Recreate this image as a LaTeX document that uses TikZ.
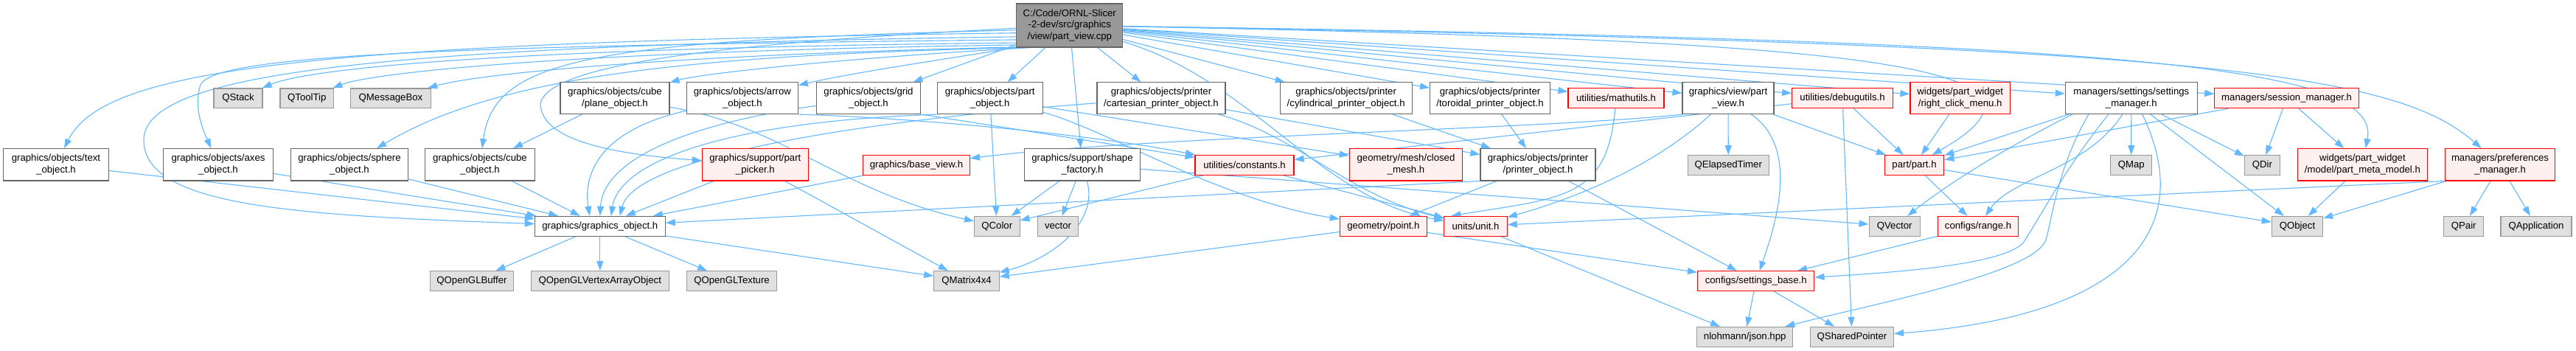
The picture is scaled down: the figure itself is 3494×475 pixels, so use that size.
\documentclass[tikz,border=0pt]{standalone}
\usepackage{fontspec}
\setmainfont{Liberation Sans}
\usetikzlibrary{arrows.meta}
\definecolor{edgecol}{HTML}{63B8FF}
\definecolor{bordN}{HTML}{666666}
\definecolor{bordX}{HTML}{999999}
\definecolor{fillX}{HTML}{E0E0E0}
\definecolor{fillR}{HTML}{FFF0F0}
\definecolor{fillRoot}{HTML}{999999}
\pgfdeclarelayer{edgelayer}
\pgfsetlayers{edgelayer,main}
\tikzset{
  nd/.style={draw, line width=1.1pt, inner sep=0pt, align=center, text=black,
             font=\fontsize{13.2}{15.7}\selectfont},
  nbox/.style={nd, draw=bordN, fill=white},
  xbox/.style={nd, draw=bordX, fill=fillX},
  rbox/.style={nd, draw=red, fill=fillR},
  rootbox/.style={nd, draw=bordN, fill=fillRoot},
  hone/.style={minimum height=26.7pt},
  htwo/.style={minimum height=42.7pt},
  dep/.style={draw=edgecol, line width=1.1pt, -{Triangle[length=13pt,width=9pt]}},
}
\begin{document}
\begin{tikzpicture}[x=1pt,y=-1pt]
\useasboundingbox (0,0) rectangle (3494,475);
% ---------- row 0
\node[rootbox, minimum width=144pt, minimum height=59pt] (root) at (1450.8,34.5) {C:/Code/ORNL-Slicer\\-2-dev/src/graphics\\/view/part\_view.cpp};
% ---------- row 1
\node[xbox, hone, minimum width=66pt] (qstack) at (323,133.3) {QStack};
\node[xbox, hone, minimum width=72.7pt] (qtooltip) at (416.3,133.3) {QToolTip};
\node[xbox, hone, minimum width=108.7pt] (qmsgbox) at (530,133.3) {QMessageBox};
\node[nbox, htwo, minimum width=148pt] (plane) at (834,133.2) {graphics/objects/cube\\/plane\_object.h};
\node[nbox, htwo, minimum width=151pt] (arrow) at (1006.9,133.2) {graphics/objects/arrow\\\_object.h};
\node[nbox, htwo, minimum width=141.8pt] (grid) at (1178,133.2) {graphics/objects/grid\\\_object.h};
\node[nbox, htwo, minimum width=142.7pt] (partobj) at (1342.7,133.2) {graphics/objects/part\\\_object.h};
\node[nbox, htwo, minimum width=174pt] (cart) at (1575,133.2) {graphics/objects/printer\\/cartesian\_printer\_object.h};
\node[nbox, htwo, minimum width=179.3pt] (cyl) at (1825.7,133.2) {graphics/objects/printer\\/cylindrical\_printer\_object.h};
\node[nbox, htwo, minimum width=163pt] (tor) at (2021,133.2) {graphics/objects/printer\\/toroidal\_printer\_object.h};
\node[rbox, minimum height=27.4pt, minimum width=130pt] (mathutils) at (2192,133) {utilities/mathutils.h};
\node[nbox, htwo, minimum width=124pt] (partview) at (2344,133.2) {graphics/view/part\\\_view.h};
\node[rbox, minimum height=27.4pt, minimum width=136.6pt] (debugutils) at (2499,133) {utilities/debugutils.h};
\node[rbox, htwo, minimum width=135.5pt] (rcm) at (2658.7,133.2) {widgets/part\_widget\\/right\_click\_menu.h};
\node[nbox, htwo, minimum width=178.7pt] (settingsmgr) at (2890.8,133.2) {managers/settings/settings\\\_manager.h};
\node[rbox, minimum height=27.4pt, minimum width=195.6pt] (sessionmgr) at (3101.6,133) {managers/session\_manager.h};
% ---------- row 2
\node[nbox, minimum height=43.3pt, minimum width=143pt] (textobj) at (76,223.3) {graphics/objects/text\\\_object.h};
\node[nbox, minimum height=43.3pt, minimum width=148.5pt] (axes) at (296,223.3) {graphics/objects/axes\\\_object.h};
\node[nbox, minimum height=43.3pt, minimum width=159.6pt] (sphere) at (474,223.3) {graphics/objects/sphere\\\_object.h};
\node[nbox, minimum height=43.3pt, minimum width=148.7pt] (cube) at (651,223.3) {graphics/objects/cube\\\_object.h};
\node[rbox, minimum height=43.3pt, minimum width=144.3pt] (picker) at (1024.4,223.3) {graphics/support/part\\\_picker.h};
\node[rbox, hone, minimum width=145pt] (baseview) at (1243,224) {graphics/base\_view.h};
\node[nbox, minimum height=43.3pt, minimum width=157pt] (shapefac) at (1468,223.3) {graphics/support/shape\\\_factory.h};
\node[rbox, hone, minimum width=134pt] (constants) at (1688,224) {utilities/constants.h};
\node[rbox, minimum height=43.3pt, minimum width=153.5pt] (closedmesh) at (1907,223.3) {geometry/mesh/closed\\\_mesh.h};
\node[nbox, minimum height=43.3pt, minimum width=156pt] (printerobj) at (2086,223.3) {graphics/objects/printer\\/printer\_object.h};
\node[xbox, hone, minimum width=110pt] (qelapsed) at (2344.3,224) {QElapsedTimer};
\node[rbox, hone, minimum width=80.7pt] (part) at (2596.5,224) {part/part.h};
\node[xbox, hone, minimum width=56pt] (qmap) at (2890.7,224) {QMap};
\node[xbox, hone, minimum width=47.8pt] (qdir) at (3068.3,224) {QDir};
\node[rbox, minimum height=43.3pt, minimum width=175.3pt] (metamodel) at (3204.4,223.3) {widgets/part\_widget\\/model/part\_meta\_model.h};
\node[rbox, minimum height=43.3pt, minimum width=149.6pt] (prefs) at (3391,223.3) {managers/preferences\\\_manager.h};
% ---------- row 3
\node[nbox, hone, minimum width=176.8pt] (gobj) at (813.8,306.7) {graphics/graphics\_object.h};
\node[xbox, hone, minimum width=61.6pt] (qcolor) at (1352.3,306.7) {QColor};
\node[xbox, hone, minimum width=55.5pt] (vector) at (1435,306.7) {vector};
\node[rbox, hone, minimum width=118.2pt] (point) at (1876.4,306.7) {geometry/point.h};
\node[rbox, hone, minimum width=85.3pt] (unit) at (2001.5,306.7) {units/unit.h};
\node[xbox, hone, minimum width=69.3pt] (qvector) at (2569.7,306.7) {QVector};
\node[rbox, hone, minimum width=109.4pt] (range) at (2683,306.7) {configs/range.h};
\node[xbox, hone, minimum width=69.3pt] (qobject) at (3116,306.7) {QObject};
\node[xbox, hone, minimum width=54.3pt] (qpair) at (3341.7,306.7) {QPair};
\node[xbox, hone, minimum width=96pt] (qapp) at (3440,306.7) {QApplication};
% ---------- row 4
\node[xbox, hone, minimum width=112.5pt] (qglbuf) at (640,381) {QOpenGLBuffer};
\node[xbox, hone, minimum width=186.7pt] (qglvao) at (813.8,381) {QOpenGLVertexArrayObject};
\node[xbox, hone, minimum width=122.4pt] (qgltex) at (992.5,381) {QOpenGLTexture};
\node[xbox, hone, minimum width=88.4pt] (qmat) at (1311,381) {QMatrix4x4};
\node[rbox, hone, minimum width=158.3pt] (setbase) at (2381.7,381) {configs/settings\_base.h};
% ---------- row 5
\node[xbox, hone, minimum width=130pt] (json) at (2366.7,456.7) {nlohmann/json.hpp};
\node[xbox, hone, minimum width=113pt] (qshared) at (2512,456.7) {QSharedPointer};

\begin{pgfonlayer}{edgelayer}
\fill[white] (0,0) rectangle (3494,475);
% root, left fan
\draw[dep] (root.188) .. controls (400,58) and (140,95) .. (textobj);
\draw[dep] (root.192) .. controls (500,62) and (195,100) .. (195,190) .. controls (195,280) and (400,292) .. (gobj);
\draw[dep] (root.195) .. controls (600,62) and (290,75) .. (272,115) .. controls (262,145) and (275,175) .. (axes);
\draw[dep] (root.198) .. controls (700,65) and (420,92) .. (qstack);
\draw[dep] (root.200) .. controls (750,70) and (500,100) .. (qtooltip);
\draw[dep] (root.202) .. controls (900,75) and (650,100) .. (qmsgbox);
\draw[dep] (root.205) .. controls (950,75) and (680,100) .. (sphere);
\draw[dep] (root.185) .. controls (800,55) and (670,80) .. (cube);
\draw[dep] (root.210) .. controls (1150,78) and (950,100) .. (plane);
\draw[dep] (root.south west) .. controls (1250,85) and (1150,100) .. (arrow);
\draw[dep] (root.183) .. controls (950,60) and (745,90) .. (733,140) .. controls (733,195) and (850,210) .. (picker);
% root, straight
\draw[dep] (root) -- (grid);
\draw[dep] (root) -- (partobj);
\draw[dep] (root) -- (shapefac);
\draw[dep] (root) -- (cart);
\draw[dep] (root) -- (cyl);
\draw[dep] (root) -- (tor);
\draw[dep] (root) -- (mathutils);
\draw[dep] (root) -- (partview);
\draw[dep] (root) -- (debugutils);
\draw[dep] (root) -- (rcm);
\draw[dep] (root) -- (settingsmgr);
\draw[dep] (root) -- (sessionmgr);
% root, right curves
\draw[dep] (root) .. controls (2550,55) and (2830,90) .. (part);
\draw[dep] (root) .. controls (2900,55) and (3230,90) .. (metamodel);
\draw[dep] (root) .. controls (3000,60) and (3250,100) .. (prefs);
\draw[dep] (root) .. controls (1700,110) and (1790,270) .. (unit);
% into graphics_object
\draw[dep] (textobj) -- (gobj);
\draw[dep] (axes) -- (gobj);
\draw[dep] (sphere) -- (gobj);
\draw[dep] (cube) -- (gobj);
\draw[dep] (plane) -- (cube);
\draw[dep] (plane) .. controls (1060,170) and (1140,260) .. (qcolor);
\draw[dep] (arrow) .. controls (820,175) and (790,230) .. ([xshift=-14pt]gobj.north);
\draw[dep] (grid) .. controls (920,170) and (818,220) .. (gobj.north);
\draw[dep] (partobj.south west) .. controls (980,165) and (840,220) .. ([xshift=15pt]gobj.north);
\draw[dep] (cart) .. controls (1150,165) and (860,215) .. ([xshift=27pt]gobj.north);
\draw[dep] (picker) -- (gobj);
\draw[dep] (picker) -- (qmat);
\draw[dep] (baseview) -- (gobj);
\draw[dep] (printerobj.south west) -- (gobj);
% middle
\draw[dep] (partobj) -- (qcolor);
\draw[dep] (partobj) -- (closedmesh);
\draw[dep] (partobj) .. controls (1500,175) and (1650,270) .. (point);
\draw[dep] (shapefac) -- (qcolor);
\draw[dep] (shapefac) -- (vector);
\draw[dep] (shapefac) .. controls (1490,300) and (1430,350) .. (qmat);
\draw[dep] (shapefac) -- (qvector);
\draw[dep] (constants) -- (qcolor);
\draw[dep] (constants) -- (unit);
\draw[dep] (arrow.south east) .. controls (1250,160) and (1500,185) .. (constants);
\draw[dep] (grid.south east) -- (constants);
\draw[dep] (cart) -- (printerobj);
\draw[dep] (cart) .. controls (1760,185) and (1830,265) .. (unit);
\draw[dep] (cyl) -- (printerobj);
\draw[dep] (tor) -- (printerobj);
\draw[dep] (mathutils) .. controls (2180,270) and (2120,268) .. ([xshift=10pt]unit.north west);
\draw[dep] (partview.south west) .. controls (2100,175) and (1550,185) .. (baseview);
\draw[dep] (partview) -- (qelapsed);
\draw[dep] (partview) -- (part);
\draw[dep] (partview) .. controls (2250,220) and (2150,265) .. (unit);
\draw[dep] (partview) .. controls (2440,200) and (2410,300) .. (setbase);
\draw[dep] (debugutils) -- (part);
\draw[dep] (debugutils) -- (qshared);
\draw[dep] (debugutils) -- (constants);
\draw[dep] (rcm) -- (part);
% settings manager
\draw[dep] ([xshift=5pt]settingsmgr.south west) -- (part);
\draw[dep] ([xshift=10pt]settingsmgr.south west) .. controls (2760,180) and (2660,235) .. (qvector);
\draw[dep] ([xshift=-58pt]settingsmgr.south) .. controls (2790,230) and (2785,290) .. (2775,325) .. controls (2760,370) and (2550,410) .. (json);
\draw[dep] ([xshift=-31pt]settingsmgr.south) .. controls (2800,230) and (2770,290) .. (2745,328) .. controls (2720,360) and (2560,370) .. (setbase);
\draw[dep] ([xshift=-12pt]settingsmgr.south) .. controls (2830,230) and (2730,240) .. (range);
\draw[dep] (settingsmgr) -- (qmap);
\draw[dep] ([xshift=15pt]settingsmgr.south) .. controls (2985,320) and (2870,430) .. (qshared);
\draw[dep] ([xshift=26pt]settingsmgr.south) -- (qobject);
\draw[dep] ([xshift=41pt]settingsmgr.south) -- (qdir);
% session manager and right side
\draw[dep] (sessionmgr) -- (part);
\draw[dep] (sessionmgr) -- (qdir);
\draw[dep] (sessionmgr) -- (metamodel);
\draw[dep] (part) -- (qobject);
\draw[dep] (part) -- (range);
\draw[dep] (metamodel) -- (qobject);
\draw[dep] (prefs) -- (qobject);
\draw[dep] (prefs) -- (qpair);
\draw[dep] (prefs) -- (qapp);
\draw[dep] (prefs.south west) -- (unit);
% lower
\draw[dep] (range) -- (setbase);
\draw[dep] (setbase) -- (json);
\draw[dep] (setbase) -- (qshared);
\draw[dep] (unit) -- (json);
\draw[dep] (point) -- (setbase);
\draw[dep] (point) -- (qmat);
\draw[dep] (printerobj) -- (setbase);
\draw[dep] (printerobj) -- (point);
\draw[dep] (gobj) -- (qglbuf);
\draw[dep] (gobj) -- (qglvao);
\draw[dep] (gobj) -- (qgltex);
\draw[dep] (gobj) -- (qmat);
\end{pgfonlayer}
\end{tikzpicture}
\end{document}
